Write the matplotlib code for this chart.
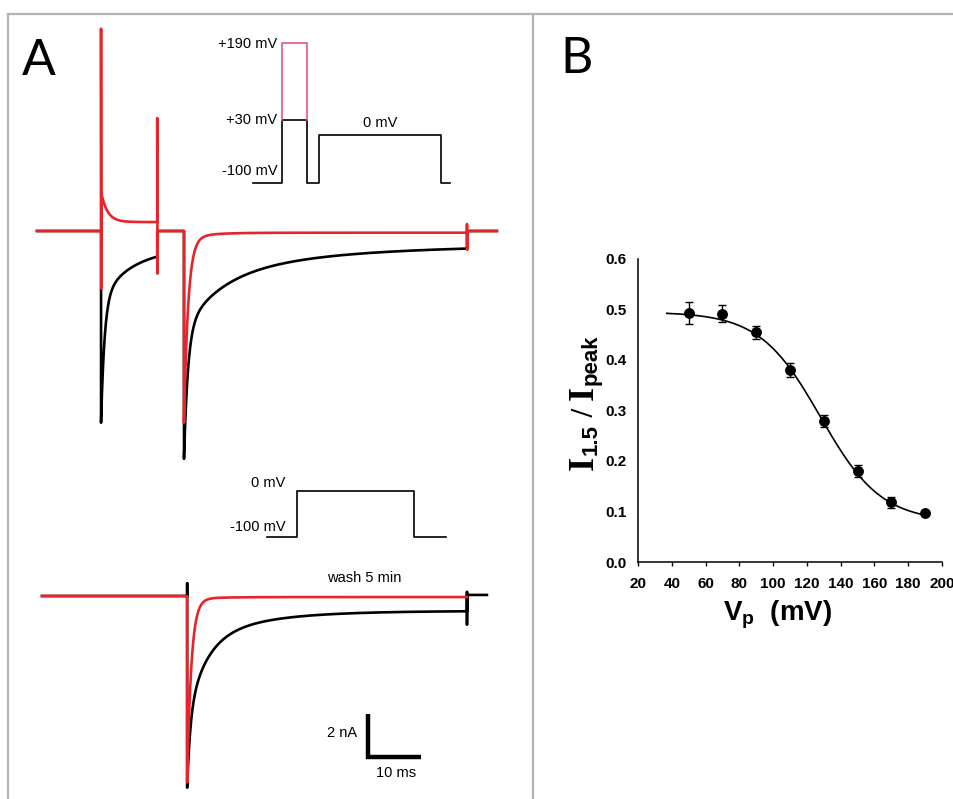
import numpy as np
import matplotlib
matplotlib.use('Agg')
import matplotlib.pyplot as plt
from matplotlib.lines import Line2D

W, H, DPI = 954, 799, 100

# ---------------- Panel B data ----------------
vp_mv = [50, 70, 90, 110, 130, 150, 170, 190]
ratio = [0.493, 0.492, 0.455, 0.381, 0.280, 0.180, 0.118, 0.098]
ratio_err = [0.021, 0.016, 0.013, 0.014, 0.012, 0.012, 0.011, 0.003]
fit_top, fit_bottom, fit_vhalf, fit_slope = 0.495, 0.080, 128.0, 18.0
fit_range_mv = [37, 190]
b_xticks = [20, 40, 60, 80, 100, 120, 140, 160, 180, 200]
b_yticks = [0.0, 0.1, 0.2, 0.3, 0.4, 0.5, 0.6]

# ---------------- Panel A data (ms, nA) ----------------
# top recording: prepulse (+30 mV black / +190 mV red), gap, 0 mV test pulse
top_times = {'start': 0.0, 'on1': 12.2, 'off1': 22.9, 'on2': 28.0, 'off2': 81.9, 'end': 87.6}
# black (+30 mV prepulse)
blk_p1_amps, blk_p1_taus, blk_p1_ss = [5.8, 2.4], [0.67, 6.0], 0.8
blk_p2_amps, blk_p2_taus, blk_p2_ss = [6.05, 2.5, 1.5], [0.75, 7.0, 25.0], 0.65
# red (+190 mV prepulse)
red_p1_spike = [9.5, -2.7]
red_p1_amps, red_p1_taus, red_p1_ss = [1.3], [1.2], 0.42
red_off1_spike = [5.3, -2.0]
red_p2_amps, red_p2_taus, red_p2_ss = [8.62, 0.3], [0.8, 4.0], 0.08
red_off2_spike = [0.33, -0.88]

# bottom recording: 0 mV test pulse, control (black) and wash 5 min (red)
bot_times = {'start': 0.95, 'on': 28.6, 'off': 81.9, 'end_black': 85.7}
bblk_amps, bblk_taus, bblk_ss = [3.3, 3.5, 1.5], [0.6, 3.5, 12.0], 0.7
bblk_pre_tick = 0.6
bblk_off_spike = [0.19, -1.35]
bblk_after = 0.05
bred_amps, bred_taus, bred_ss = [8.6, 0.1], [0.8, 5.0], 0.05

scalebar_ms, scalebar_nA = 10, 2

# voltage protocols (ms, mV)
prot1_durations = [12.0, 10.0, 5.0, 50.0, 3.7]
prot1_levels = [-100, 30, -100, 0, -100]
prot1_red_level = 190
prot2_durations = [12.8, 50.0, 13.7]
prot2_levels = [-100, 0, -100]

RED = '#e8242a'
PINK = '#e05a78'
TRACE_LW = 1.9

fig = plt.figure(figsize=(W / DPI, H / DPI), dpi=DPI)
fig.patch.set_facecolor('white')


def mapped_axes(box, origin_px, origin_data, sx, sy):
    x0, y0, x1, y1 = box
    ax = fig.add_axes([x0 / W, 1 - y1 / H, (x1 - x0) / W, (y1 - y0) / H])
    ox, oy = origin_px
    dx, dy = origin_data
    ax.set_xlim(dx + (x0 - ox) / sx, dx + (x1 - ox) / sx)
    ax.set_ylim(dy + (oy - y1) / sy, dy + (oy - y0) / sy)
    ax.axis('off')
    return ax


def decay(t0, t1, amps, taus, ss, sign=-1.0, n=800):
    u = (t1 - t0) * np.linspace(0, 1, n) ** 2
    v = ss + sum(a * np.exp(-u / tau) for a, tau in zip(amps, taus))
    return list(t0 + u), list(sign * v)


# ---- frame lines ----
for xs, ys in [((8, W), (14, 14)), ((8, 8), (14, H)), ((533, 533), (14, H))]:
    fig.add_artist(Line2D([x / W for x in xs], [1 - y / H for y in ys],
                          transform=fig.transFigure, color='#b4b4b4', lw=1.6))

# ---------------- Panel A: top traces ----------------
SX, SY = 5.25, 21.3
axt = mapped_axes((8, 20, 533, 480), (37, 231), (0, 0), SX, SY)
T = top_times
# black
bt, bi = [T['start'], T['on1']], [0, 0]
tt, ii = decay(T['on1'], T['off1'], blk_p1_amps, blk_p1_taus, blk_p1_ss)
bt += tt; bi += ii
bt += [T['off1'], T['on2']]; bi += [0, 0]
tt, ii = decay(T['on2'], T['off2'], blk_p2_amps, blk_p2_taus, blk_p2_ss)
bt += tt; bi += ii
bt += [T['off2'], T['end']]; bi += [0, 0]
axt.plot(bt, bi, color='black', lw=TRACE_LW, clip_on=False, zorder=2)
# red
rt, ri = [T['start'], T['on1'], T['on1'], T['on1'] + 0.05], [0, 0, red_p1_spike[0], red_p1_spike[1]]
tt, ii = decay(T['on1'] + 0.1, T['off1'], red_p1_amps, red_p1_taus, red_p1_ss, sign=1.0)
rt += tt; ri += ii
rt += [T['off1'], T['off1'] + 0.05, T['off1'] + 0.12, T['on2']]
ri += [red_off1_spike[0], red_off1_spike[1], 0, 0]
tt, ii = decay(T['on2'], T['off2'], red_p2_amps, red_p2_taus, red_p2_ss)
rt += tt; ri += ii
rt += [T['off2'], T['off2'] + 0.04, T['off2'] + 0.1, T['end']]
ri += [red_off2_spike[0], red_off2_spike[1], 0, 0]
axt.plot(rt, ri, color=RED, lw=TRACE_LW, clip_on=False, zorder=3)

# ---------------- Panel A: bottom traces ----------------
axb = mapped_axes((8, 480, 533, 799), (37, 596), (0, 0), SX, SY)
B = bot_times
bt, bi = [B['start'], B['on'], B['on']], [0, 0, bblk_pre_tick]
tt, ii = decay(B['on'], B['off'], bblk_amps, bblk_taus, bblk_ss)
bt += tt; bi += ii
bt += [B['off'], B['off'], B['off'] + 0.05, B['end_black']]
bi += [bblk_off_spike[0], bblk_off_spike[1], bblk_after, bblk_after]
axb.plot(bt, bi, color='black', lw=TRACE_LW, clip_on=False, zorder=2)
rt, ri = [B['start'], B['on']], [0, 0]
tt, ii = decay(B['on'], B['off'], bred_amps, bred_taus, bred_ss)
rt += tt; ri += ii
axb.plot(rt, ri, color=RED, lw=TRACE_LW, clip_on=False, zorder=3)
axb.text(62.3, 0.84, 'wash 5 min', ha='center', va='center', fontsize=10.5,
         family='Liberation Sans')

# scale bar
sb_t, sb_i = 63.05, -7.56
axb.plot([sb_t, sb_t, sb_t + scalebar_ms], [sb_i + scalebar_nA, sb_i, sb_i],
         color='black', lw=3.2, solid_capstyle='butt', solid_joinstyle='miter')
axb.text(sb_t - 2.0, sb_i + scalebar_nA / 2 + 0.15, f'{scalebar_nA} nA', ha='right', va='center',
         fontsize=10.5, family='Liberation Sans')
axb.text(sb_t + 5.4, sb_i - 0.75, f'{scalebar_ms} ms', ha='center', va='center',
         fontsize=10.5, family='Liberation Sans')

# ---------------- voltage protocols ----------------
def step_xy(durs, levels):
    xs, ys, t = [], [], 0.0
    for d, lv in zip(durs, levels):
        xs += [t, t + d]; ys += [lv, lv]
        t += d
    return xs, ys

ap1 = mapped_axes((240, 30, 470, 200), (253, 183), (0, -100), 2.44, 0.484)
px, py = step_xy(prot1_durations, prot1_levels)
ap1.plot(px, py, color='black', lw=1.2, clip_on=False)
p_on, p_off = prot1_durations[0], prot1_durations[0] + prot1_durations[1]
ap1.plot([p_on, p_on, p_off, p_off], [prot1_levels[1], prot1_red_level, prot1_red_level, prot1_levels[1]],
         color=PINK, lw=1.2, clip_on=False)
lx = p_on - 2.0
lab_kw = dict(ha='right', va='center', fontsize=10.5, family='Liberation Sans')
ap1.text(lx, prot1_red_level - 3, '+190 mV', **lab_kw)
ap1.text(lx, prot1_levels[1], '+30 mV', **lab_kw)
ap1.text(lx, -75, '-100 mV', **lab_kw)
t_mid = sum(prot1_durations[:3]) + prot1_durations[3] / 2
ap1.text(t_mid, 23, '0 mV', ha='center', va='center', fontsize=10.5, family='Liberation Sans')

ap2 = mapped_axes((255, 465, 470, 550), (267, 537), (0, -100), 2.34, 0.46)
px, py = step_xy(prot2_durations, prot2_levels)
ap2.plot(px, py, color='black', lw=1.2, clip_on=False)
lx2 = prot2_durations[0] - 5.0
ap2.text(lx2, 17, '0 mV', **lab_kw)
ap2.text(lx2, -78, '-100 mV', **lab_kw)

# panel labels
fig.text(39 / W, 1 - 61 / H, 'A', ha='center', va='center', fontsize=36, family='Lato')
fig.text(577 / W, 1 - 59 / H, 'B', ha='center', va='center', fontsize=36, family='Lato')

# ---------------- Panel B ----------------
axB = fig.add_axes([638 / W, 1 - 562 / H, 304 / W, 303 / H])
axB.set_xlim(20, 200)
axB.set_ylim(0, 0.6)
for s in ['top', 'right']:
    axB.spines[s].set_visible(False)
for s in ['left', 'bottom']:
    axB.spines[s].set_linewidth(1.1)
axB.set_xticks(b_xticks)
axB.set_yticks(b_yticks)
axB.set_xticklabels([str(v) for v in b_xticks])
axB.set_yticklabels([f'{v:.1f}' for v in b_yticks])
axB.tick_params(axis='x', direction='out', length=3, width=1.0, pad=8)
axB.tick_params(axis='y', length=0, pad=8)
for lab in axB.get_xticklabels() + axB.get_yticklabels():
    lab.set_fontweight('bold'); lab.set_fontsize(11); lab.set_family('Liberation Sans')

vfit = np.linspace(fit_range_mv[0], fit_range_mv[1], 300)
yfit = fit_bottom + (fit_top - fit_bottom) / (1 + np.exp((vfit - fit_vhalf) / fit_slope))
axB.plot(vfit, yfit, color='black', lw=1.2, zorder=2)
axB.errorbar(vp_mv, ratio, yerr=ratio_err, fmt='o', color='black', ms=6.8,
             capsize=2.8, elinewidth=1.0, capthick=1.0, zorder=3, clip_on=False)

fig.text(778 / W, 1 - 615 / H, r'V$_{\mathregular{p}}$  (mV)', ha='center', va='center',
         fontsize=20, fontweight='bold', family='Liberation Sans')

# y label composed from pieces (rotated)
renderer = fig.canvas.get_renderer()
pieces = [('I', 'Liberation Serif', 26, 0), ('1.5', 'Liberation Sans', 16, 4),
          (' / ', 'Liberation Serif', 22, 0), ('I', 'Liberation Serif', 26, 0),
          ('peak', 'Liberation Sans', 16, 4)]
ybase = 470
xbase = 593
for s, fam, size, dx in pieces:
    t = fig.text((xbase + dx) / W, 1 - ybase / H, s, rotation=90, rotation_mode='anchor',
                 ha='left', va='baseline', family=fam, fontweight='bold', fontsize=size)
    ext = t.get_window_extent(renderer)
    ybase = H - ext.y1 - 0.5

fig.savefig('out.png', dpi=DPI, facecolor='white')
